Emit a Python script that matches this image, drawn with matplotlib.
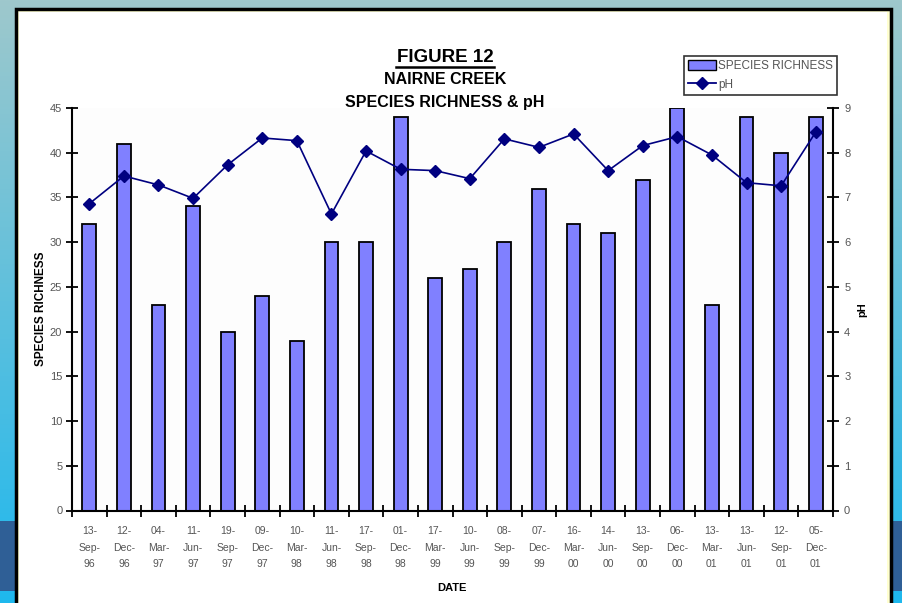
import numpy as np
import matplotlib.pyplot as plt
from matplotlib.patches import Rectangle
from matplotlib.lines import Line2D

plt.rcParams['font.family'] = ['Liberation Sans Narrow', 'Liberation Sans', 'DejaVu Sans']

dates = ["13-\nSep-\n96", "12-\nDec-\n96", "04-\nMar-\n97", "11-\nJun-\n97",
         "19-\nSep-\n97", "09-\nDec-\n97", "10-\nMar-\n98", "11-\nJun-\n98",
         "17-\nSep-\n98", "01-\nDec-\n98", "17-\nMar-\n99", "10-\nJun-\n99",
         "08-\nSep-\n99", "07-\nDec-\n99", "16-\nMar-\n00", "14-\nJun-\n00",
         "13-\nSep-\n00", "06-\nDec-\n00", "13-\nMar-\n01", "13-\nJun-\n01",
         "12-\nSep-\n01", "05-\nDec-\n01"]
richness = [32, 41, 23, 34, 20, 24, 19, 30, 30, 44, 26,
            27, 30, 36, 32, 31, 37, 45, 23, 44, 40, 44]
ph = [6.86, 7.48, 7.28, 6.98, 7.73, 8.33, 8.27, 6.63, 8.04, 7.63, 7.60,
      7.42, 8.31, 8.12, 8.42, 7.60, 8.16, 8.36, 7.95, 7.33, 7.26, 8.46]

W, H = 902, 603
fig = plt.figure(figsize=(W / 100, H / 100), dpi=100)

# slide background: teal-to-cyan gradient with a dark band near the bottom
bg = fig.add_axes([0, 0, 1, 1], zorder=-10)
top = np.array([158, 200, 204]) / 255
bot = np.array([30, 184, 238]) / 255
t = np.linspace(0, 1, 300)[:, None]
grad = top * (1 - t) + bot * t
bg.imshow(grad[:, None, :].repeat(2, axis=1), aspect='auto', extent=[0, W, H, 0])
bg.add_patch(Rectangle((0, 521), W, 70, color='#2f5f96', lw=0))
# white panel with black frame and pale yellow inner line
bg.add_patch(Rectangle((15.5, 8.5), 875, 620, facecolor='#ffffd0',
                       edgecolor='black', lw=2.5))
bg.add_patch(Rectangle((19, 12), 868, 620, facecolor='white', lw=0))
bg.set_xlim(0, W)
bg.set_ylim(H, 0)
bg.axis('off')

ax = fig.add_axes([72 / W, 1 - 510.5 / H, (833 - 72) / W, (510.5 - 108) / H])
ax.set_facecolor('#fdfdfd')
x = np.arange(len(dates))
ax.bar(x, richness, width=0.4, color='#8080ff', edgecolor='black',
       linewidth=1.3, zorder=2)
ax.set_xlim(-0.5, len(dates) - 0.5)
ax.set_ylim(0, 45)
ax.set_yticks(range(0, 46, 5))
ax.set_xticks(np.arange(-0.5, len(dates), 1))
ax.set_xticklabels([])
ax.set_xticks(x, minor=True)
ax.set_xticklabels(dates, minor=True, fontsize=7.5, color='#555555', linespacing=1.85)
ax.tick_params(axis='x', which='minor', length=0, pad=11)
ax.tick_params(axis='x', which='major', direction='inout', length=8, width=1.3)
ax.tick_params(axis='y', direction='inout', length=8, width=1.3,
               labelsize=8, labelcolor='#555555', pad=3)
for s in ['top', 'right']:
    ax.spines[s].set_visible(False)
for s in ['left', 'bottom']:
    ax.spines[s].set_linewidth(1.5)
ax.set_ylabel('SPECIES RICHNESS', fontsize=8.5, fontweight='bold', labelpad=2)

ax2 = ax.twinx()
ax2.plot(x, ph, color='#000080', lw=1.2, marker='D', markersize=6.5, zorder=3)
ax2.set_ylim(0, 9)
ax2.set_yticks(range(0, 10))
for s in ['top', 'left', 'bottom']:
    ax2.spines[s].set_visible(False)
ax2.spines['right'].set_linewidth(1.5)
ax2.tick_params(axis='y', direction='inout', length=8, width=1.3,
                labelsize=8, labelcolor='#555555', pad=4)
ax2.set_ylabel('pH', fontsize=8, fontweight='bold', labelpad=5)

# titles and x axis label
fig.text(445 / W, 1 - 57 / H, 'FIGURE 12', ha='center', va='center',
         fontsize=13.5, fontweight='bold')
fig.add_artist(Line2D([396 / W, 494 / W], [1 - 67 / H, 1 - 67 / H],
                      color='black', lw=1.8))
fig.text(445 / W, 1 - 80 / H, 'NAIRNE CREEK', ha='center', va='center',
         fontsize=11.5, fontweight='bold')
fig.text(445 / W, 1 - 102 / H, 'SPECIES RICHNESS & pH', ha='center', va='center',
         fontsize=11.5, fontweight='bold')
fig.text(452 / W, 1 - 588 / H, 'DATE', ha='center', va='center',
         fontsize=8, fontweight='bold')

handles = [Rectangle((0, 0), 1, 1, facecolor='#8080ff', edgecolor='black', lw=1),
           Line2D([], [], color='#000080', lw=1.3, marker='D', markersize=6)]
leg = fig.legend(handles, ['SPECIES RICHNESS', 'pH'], loc='upper left',
                 bbox_to_anchor=(684 / W, 1 - 56 / H), fontsize=8.5,
                 frameon=True, fancybox=False, edgecolor='black',
                 borderpad=0.35, labelspacing=0.55, handlelength=2.4,
                 handleheight=0.9, handletextpad=0.15, borderaxespad=0)
leg.get_frame().set_linewidth(1.2)
for txt in leg.get_texts():
    txt.set_color('#555555')

fig.savefig('out.png', dpi=100)
